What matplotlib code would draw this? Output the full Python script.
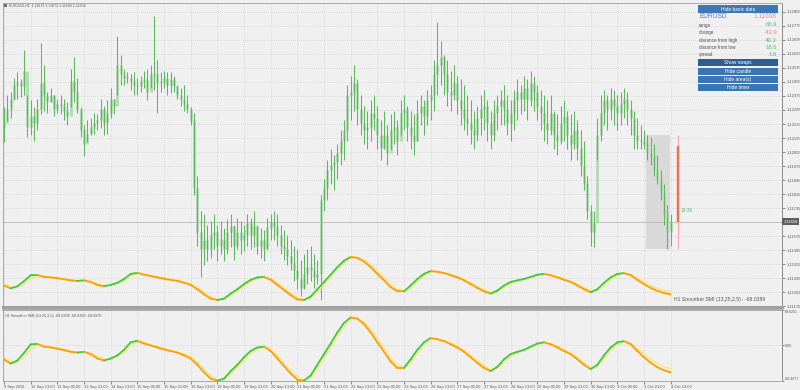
import matplotlib
matplotlib.use("Agg")
import matplotlib.pyplot as plt
from matplotlib.patches import Rectangle
from matplotlib.collections import LineCollection
import numpy as np

plt.rcParams['font.family'] = ['Liberation Sans', 'DejaVu Sans']

# ---------------- data ----------------
symbol = "EURUSD"
header_text = "EURUSD,H1  1.11672 1.11672 1.11649 1.11658"
bar_high = [
    1.1231, 1.1238, 1.1240, 1.1248, 1.1251, 1.1247, 1.1264, 1.1238, 1.1235, 1.1231,
    1.1236, 1.1268, 1.1255, 1.1240, 1.1242, 1.1238, 1.1236, 1.1238, 1.1236, 1.1234,
    1.1253, 1.1260, 1.1248, 1.1231, 1.1221, 1.1224, 1.1225, 1.1228, 1.1227, 1.1236,
    1.1232, 1.1235, 1.1242, 1.1236, 1.1272, 1.1261, 1.1253, 1.1251, 1.1250, 1.1251,
    1.1248, 1.1249, 1.1252, 1.1253, 1.1255, 1.1283, 1.1258, 1.1251, 1.1252, 1.1251,
    1.1251, 1.1249, 1.1244, 1.1242, 1.1244, 1.1238, 1.1231, 1.1228, 1.1192, 1.1172,
    1.1170, 1.1164, 1.1166, 1.1170, 1.1164, 1.1166, 1.1162, 1.1167, 1.1170, 1.1164,
    1.1168, 1.1166, 1.1164, 1.1170, 1.1168, 1.1172, 1.1164, 1.1162, 1.1161, 1.1168,
    1.1170, 1.1172, 1.1170, 1.1164, 1.1161, 1.1158, 1.1155, 1.1152, 1.1150, 1.1144,
    1.1147, 1.1150, 1.1152, 1.1147, 1.1144, 1.1181, 1.1190, 1.1201, 1.1207, 1.1204,
    1.1210, 1.1218, 1.1224, 1.1244, 1.1249, 1.1255, 1.1247, 1.1238, 1.1232, 1.1229,
    1.1235, 1.1238, 1.1232, 1.1224, 1.1229, 1.1221, 1.1227, 1.1229, 1.1224, 1.1235,
    1.1238, 1.1232, 1.1229, 1.1227, 1.1235, 1.1238, 1.1235, 1.1241, 1.1244, 1.1258,
    1.1280, 1.1269, 1.1261, 1.1258, 1.1252, 1.1255, 1.1249, 1.1247, 1.1244, 1.1238,
    1.1235, 1.1229, 1.1232, 1.1238, 1.1241, 1.1235, 1.1229, 1.1235, 1.1238, 1.1241,
    1.1244, 1.1238, 1.1235, 1.1241, 1.1247, 1.1244, 1.1249, 1.1247, 1.1252, 1.1249,
    1.1244, 1.1241, 1.1238, 1.1235, 1.1238, 1.1229, 1.1227, 1.1232, 1.1235, 1.1229,
    1.1227, 1.1229, 1.1224, 1.1218, 1.1212, 1.1192, 1.1175, 1.1172, 1.1225, 1.1238,
    1.1241, 1.1238, 1.1242, 1.1241, 1.1238, 1.1240, 1.1242, 1.1240, 1.1235, 1.1229,
    1.1225, 1.1221, 1.1218, 1.1215, 1.1214, 1.1210, 1.1204, 1.1195, 1.1187, 1.1175,
    1.1170]
bar_low = [
    1.1211, 1.1223, 1.1225, 1.1235, 1.1236, 1.1237, 1.1238, 1.1214, 1.1215, 1.1212,
    1.1218, 1.1227, 1.1229, 1.1228, 1.1234, 1.1226, 1.1228, 1.1227, 1.1224, 1.1221,
    1.1231, 1.1234, 1.1228, 1.1214, 1.1203, 1.1211, 1.1215, 1.1216, 1.1218, 1.1219,
    1.1215, 1.1216, 1.1225, 1.1227, 1.1238, 1.1244, 1.1244, 1.1245, 1.1241, 1.1238,
    1.1238, 1.1240, 1.1242, 1.1235, 1.1242, 1.1241, 1.1228, 1.1240, 1.1242, 1.1238,
    1.1239, 1.1240, 1.1236, 1.1232, 1.1229, 1.1228, 1.1221, 1.1181, 1.1152, 1.1134,
    1.1141, 1.1143, 1.1145, 1.1150, 1.1143, 1.1147, 1.1143, 1.1147, 1.1151, 1.1144,
    1.1150, 1.1147, 1.1149, 1.1152, 1.1150, 1.1151, 1.1147, 1.1145, 1.1143, 1.1150,
    1.1155, 1.1155, 1.1152, 1.1147, 1.1144, 1.1141, 1.1138, 1.1132, 1.1127, 1.1123,
    1.1127, 1.1130, 1.1132, 1.1128, 1.1130, 1.1121, 1.1172, 1.1178, 1.1187, 1.1184,
    1.1190, 1.1198, 1.1201, 1.1212, 1.1224, 1.1229, 1.1221, 1.1215, 1.1210, 1.1207,
    1.1212, 1.1218, 1.1207, 1.1201, 1.1207, 1.1198, 1.1207, 1.1210, 1.1204, 1.1215,
    1.1218, 1.1212, 1.1207, 1.1204, 1.1212, 1.1221, 1.1215, 1.1221, 1.1224, 1.1229,
    1.1238, 1.1244, 1.1238, 1.1232, 1.1229, 1.1235, 1.1227, 1.1221, 1.1218, 1.1215,
    1.1210, 1.1207, 1.1212, 1.1215, 1.1218, 1.1212, 1.1207, 1.1212, 1.1218, 1.1221,
    1.1221, 1.1215, 1.1212, 1.1218, 1.1224, 1.1227, 1.1229, 1.1224, 1.1232, 1.1229,
    1.1224, 1.1218, 1.1212, 1.1210, 1.1215, 1.1207, 1.1204, 1.1210, 1.1212, 1.1207,
    1.1201, 1.1207, 1.1201, 1.1192, 1.1184, 1.1167, 1.1152, 1.1151, 1.1201, 1.1212,
    1.1221, 1.1218, 1.1224, 1.1221, 1.1218, 1.1221, 1.1225, 1.1221, 1.1215, 1.1207,
    1.1207, 1.1207, 1.1207, 1.1201, 1.1198, 1.1192, 1.1187, 1.1178, 1.1164, 1.1150,
    1.1152]
bar_close = [
    1.1222, 1.1230, 1.1236, 1.1244, 1.1245, 1.1243, 1.1252, 1.1220, 1.1226, 1.1222,
    1.1230, 1.1245, 1.1238, 1.1234, 1.1238, 1.1230, 1.1233, 1.1232, 1.1229, 1.1226,
    1.1246, 1.1240, 1.1230, 1.1218, 1.1210, 1.1216, 1.1220, 1.1222, 1.1224, 1.1230,
    1.1222, 1.1228, 1.1236, 1.1232, 1.1255, 1.1250, 1.1248, 1.1248, 1.1246, 1.1244,
    1.1243, 1.1246, 1.1247, 1.1240, 1.1250, 1.1250, 1.1245, 1.1246, 1.1248, 1.1244,
    1.1247, 1.1243, 1.1238, 1.1236, 1.1233, 1.1230, 1.1223, 1.1185, 1.1160, 1.1150,
    1.1155, 1.1150, 1.1158, 1.1160, 1.1152, 1.1156, 1.1150, 1.1160, 1.1163, 1.1152,
    1.1160, 1.1155, 1.1158, 1.1165, 1.1158, 1.1163, 1.1152, 1.1155, 1.1150, 1.1162,
    1.1166, 1.1163, 1.1158, 1.1152, 1.1150, 1.1146, 1.1142, 1.1138, 1.1133, 1.1128,
    1.1136, 1.1140, 1.1138, 1.1134, 1.1136, 1.1178, 1.1185, 1.1195, 1.1198, 1.1200,
    1.1205, 1.1212, 1.1218, 1.1238, 1.1240, 1.1245, 1.1230, 1.1222, 1.1218, 1.1220,
    1.1228, 1.1225, 1.1215, 1.1208, 1.1215, 1.1205, 1.1218, 1.1220, 1.1212, 1.1228,
    1.1230, 1.1220, 1.1215, 1.1212, 1.1228, 1.1232, 1.1226, 1.1235, 1.1238, 1.1250,
    1.1255, 1.1260, 1.1250, 1.1240, 1.1238, 1.1245, 1.1235, 1.1230, 1.1225, 1.1222,
    1.1218, 1.1215, 1.1225, 1.1230, 1.1232, 1.1222, 1.1215, 1.1228, 1.1232, 1.1235,
    1.1230, 1.1222, 1.1228, 1.1235, 1.1240, 1.1236, 1.1242, 1.1235, 1.1245, 1.1240,
    1.1232, 1.1228, 1.1222, 1.1218, 1.1228, 1.1215, 1.1212, 1.1222, 1.1226, 1.1215,
    1.1210, 1.1218, 1.1208, 1.1198, 1.1188, 1.1172, 1.1160, 1.1165, 1.1215, 1.1228,
    1.1235, 1.1230, 1.1236, 1.1232, 1.1228, 1.1233, 1.1236, 1.1230, 1.1225, 1.1215,
    1.1212, 1.1212, 1.1210, 1.1205, 1.1203, 1.1196, 1.1190, 1.1182, 1.1170, 1.1160,
    1.11658]
first_open = 1.1220
current_price = 1.11658
day_open = 1.1209
area_high = 1.1215
area_low = 1.1150
area_first_bar = 193

smi_main = [
    -35, -46, -38, -19, 3, 4, -3, -5, -8, -12,
    -16, -18, -16, -22, -33, -38, -33, -25, -11, 8,
    12, 5, 0, -5, -10, -14, -18, -25, -33, -49,
    -68, -84, -89, -84, -65, -49, -30, -14, -5, -3,
    -14, -33, -52, -71, -87, -89, -76, -49, -22, 5,
    33, 57, 71, 68, 54, 33, 8, -16, -41, -57,
    -57, -35, -11, 8, 19, 16, 11, 3, -5, -16,
    -30, -44, -57, -65, -54, -35, -22, -16, -11, -3,
    5, 8, 3, -5, -14, -22, -35, -49, -60, -49,
    -25, -5, 8, 11, 3, -14, -30, -44, -55, -63,
    -68.0389]
smi_signal = [
    -30, -40, -42, -30, -10, 0, 0, -3, -6, -10,
    -14, -17, -17, -19, -27, -35, -35, -29, -18, 0,
    9, 8, 2, -3, -8, -12, -16, -22, -29, -42,
    -60, -77, -87, -86, -73, -56, -38, -21, -9, -4,
    -9, -25, -44, -63, -80, -88, -82, -60, -33, -6,
    22, 47, 65, 69, 60, 42, 18, -6, -31, -50,
    -57, -44, -20, 1, 14, 17, 13, 6, -2, -12,
    -25, -38, -51, -61, -58, -43, -28, -19, -13, -6,
    2, 7, 5, -2, -10, -19, -30, -43, -55, -53,
    -34, -13, 3, 10, 6, -8, -22, -35, -45, -53,
    -58.5970]
smi_bar_step = 2
smi_min, smi_max = -89.9477, 89.8251
smi_title = "H1 Smoother SMI (13,25,2,5) -68.0389 -68.0389 -58.5970"
smi_main_label = "H1 Smoother SMI (13,25,2,5) : -68.0389"

time_labels = ["9 Sep 2016", "12 Sep 13:00", "13 Sep 05:00", "13 Sep 21:00", "14 Sep 13:00",
               "15 Sep 05:00", "15 Sep 21:00", "16 Sep 13:00", "19 Sep 05:00", "19 Sep 21:00",
               "20 Sep 13:00", "21 Sep 05:00", "21 Sep 21:00", "22 Sep 13:00", "23 Sep 05:00",
               "23 Sep 21:00", "26 Sep 13:00", "27 Sep 05:00", "27 Sep 21:00", "28 Sep 13:00",
               "29 Sep 05:00", "29 Sep 21:00", "30 Sep 13:00", "3 Oct 05:00", "3 Oct 21:00",
               "4 Oct 13:00"]
time_label_step = 8
price_ticks = [1.11175, 1.11255, 1.11335, 1.11415, 1.11495, 1.11575, 1.11735, 1.11815,
               1.11895, 1.11975, 1.12055, 1.12135, 1.12215, 1.12295, 1.12375, 1.12455,
               1.12535, 1.12615, 1.12695, 1.12775, 1.12855]
info_price = "1.11658"
info_rows = [("range", "65.9", "up"), ("change", "-42.9", "down"),
             ("distance from high", "49.3", "up"), ("distance from low", "16.6", "up"),
             ("spread", "1.6", "up")]
buttons = ["Show swaps", "Hide candle", "Hide area(s)", "Hide timer"]
timer_text = "18:39"

# ---------------- style ----------------
BG = '#f0f0f0'
GRID = '#c4c4c4'
BAR = '#5cb85c'
BODY = '#b4dcb4'
UP = '#3ccc3c'
DOWN = '#ffa000'
SIG = '#ffe27a'
TXT = '#5a5a5a'

W, H = 800, 390
fig = plt.figure(figsize=(8, 3.9), dpi=100, facecolor=BG)


def frac(x0, y0, x1, y1):
    return [x0 / W, 1 - y1 / H, (x1 - x0) / W, (y1 - y0) / H]


ax = fig.add_axes(frac(3, 3, 782, 307))
axs = fig.add_axes(frac(3, 310, 782, 381))
# overlay axes for the indicator drawn in the main window (same box as ax)
ax2 = fig.add_axes(frac(3, 3, 782, 307), sharex=ax)

n = len(bar_high)
idx = np.arange(n)
xlim = (-0.3, 233.4)
tick_idx = np.arange(len(time_labels)) * time_label_step

for a in (ax, axs):
    a.set_facecolor(BG)
    a.set_xlim(*xlim)
    a.set_xticks(tick_idx)
    a.grid(True, color=GRID, ls=(0, (1, 2)), lw=0.5)
    a.set_axisbelow(True)
    a.yaxis.tick_right()
    a.tick_params(axis='y', labelsize=3.0, colors=TXT, length=2, width=0.5, pad=1.2)
    for s in a.spines.values():
        s.set_color('#a8a8a8')
        s.set_linewidth(0.7)
    a.spines['right'].set_color('#8a8a8a')

ax.tick_params(axis='x', length=0, labelbottom=False)
ax.spines['bottom'].set_linewidth(2.2)
ax.spines['bottom'].set_color('#a0a0a0')
axs.spines['top'].set_linewidth(1.2)
axs.spines['top'].set_color('#a0a0a0')

# main price axis
ax.set_ylim(1.11170, 1.12906)
ax.set_yticks(price_ticks)
ax.set_yticklabels([f"{p:.5f}" for p in price_ticks])

# range area and current price
ax.add_patch(Rectangle((area_first_bar - 0.4, area_low), (n - 1) - area_first_bar + 0.1,
                       area_high - area_low, facecolor='#d9d9d9', edgecolor='none', zorder=1))
ax.axhline(current_price, color='#b8b8b8', lw=0.6, zorder=1.5)

# bars
opens = np.array([first_open] + bar_close[:-1])
closes = np.array(bar_close)
blo = np.minimum(opens, closes)
bhi = np.maximum(opens, closes)
bhi = np.maximum(bhi, blo + 0.00005)
ax.vlines(idx, blo, bhi, color=BODY, lw=2.1, zorder=2)
ax.vlines(idx, bar_low, bar_high, color=BAR, lw=0.75, zorder=3)

# timer bar
timer_x = n - 1 + 2.2
ax.vlines(timer_x, area_low, area_high, color='#f2a3b3', lw=0.7, zorder=3)
ax.vlines(timer_x, current_price, day_open, color='#f0704a', lw=1.7, zorder=4)
ax.text(timer_x + 0.8, 1.1172, timer_text, color='#5cc070', fontsize=3.4, va='center', ha='left')

# current price box on axis
ax.text(1.002, current_price, f"{current_price:.5f}", transform=ax.get_yaxis_transform(),
        ha='left', va='center', fontsize=3.0, color='white', clip_on=False,
        bbox=dict(boxstyle='square,pad=0.3', fc='#5e5e5e', ec='none'), zorder=6)


def smi_lines(a, lw):
    xs = np.arange(len(smi_main)) * smi_bar_step
    a.plot(xs, smi_signal, color=SIG, lw=0.9, zorder=4, solid_capstyle='round')
    pts = np.column_stack([xs, smi_main])
    segs = np.stack([pts[:-1], pts[1:]], axis=1)
    cols = [UP if smi_main[i + 1] > smi_main[i] else DOWN for i in range(len(smi_main) - 1)]
    lc = LineCollection(segs, colors=cols, linewidths=lw, zorder=5, capstyle='round')
    a.add_collection(lc)


# SMI overlay in main window
ax2.set_ylim(-115, 1015)
ax2.set_xlim(*xlim)
ax2.axis('off')
ax2.patch.set_alpha(0)
smi_lines(ax2, 1.3)

# sub window
axs.set_ylim(smi_min, smi_max)
axs.set_yticks([smi_max, 0, smi_min])
axs.set_yticklabels([f"{smi_max:.4f}", "0.00", f"{smi_min:.4f}"])
axs.tick_params(axis='y', labelsize=2.6, length=1.5, pad=0.4)
ylabs = axs.get_yticklabels()
ylabs[0].set_va('top')
ylabs[2].set_va('bottom')
axs.set_xticks(tick_idx)
axs.set_xticklabels(time_labels, ha='left')
axs.tick_params(axis='x', labelsize=2.9, colors=TXT, length=2, width=0.5, pad=1.0)
smi_lines(axs, 1.3)

# ---------------- overlay (pixel coords) ----------------
ov = fig.add_axes([0, 0, 1, 1], zorder=10)
ov.set_xlim(0, W)
ov.set_ylim(H, 0)
ov.axis('off')
ov.patch.set_alpha(0)

ov.add_patch(Rectangle((3.5, 3.5), 3, 3, fc='#707070', ec='none'))
ov.text(9, 5.3, header_text, fontsize=2.6, color=TXT, va='center', ha='left')
ov.text(5, 316, smi_title, fontsize=2.7, color=TXT, va='center', ha='left')
ov.text(674, 299.5, smi_main_label, fontsize=3.7, color='#555555', va='center', ha='left')

# info panel
ov.add_patch(Rectangle((698, 5), 80, 8, fc='#3c78b8', ec='none'))
ov.text(738, 9.2, "Hide basic data", fontsize=3.5, color='white', ha='center', va='center')
ov.text(699, 17, symbol, fontsize=4.7, color='#4d7fc2', ha='left', va='center')
ov.text(777, 17, info_price, fontsize=4.7, color='#e888a0', ha='right', va='center')
row_y = [25, 32.7, 40.4, 47.8, 54.6]
for (lab, val, kind), yy in zip(info_rows, row_y):
    ov.text(699, yy, lab, fontsize=3.3, color='#505050', ha='left', va='center')
    ov.text(777, yy, val, fontsize=4.3, color='#4cc46a' if kind == 'up' else '#e8809a',
            ha='right', va='center')
btn_y = [(59, 66), (68, 74.5), (76, 82.5), (84, 91)]
for i, (lab, (y0, y1)) in enumerate(zip(buttons, btn_y)):
    ov.add_patch(Rectangle((698, y0), 80, y1 - y0, fc='#2c5e94' if i == 0 else '#3a75b4', ec='none'))
    ov.text(738, (y0 + y1) / 2 + 0.2, lab, fontsize=3.5, color='white', ha='center', va='center')

fig.savefig('out.png', dpi=100, facecolor=BG)
